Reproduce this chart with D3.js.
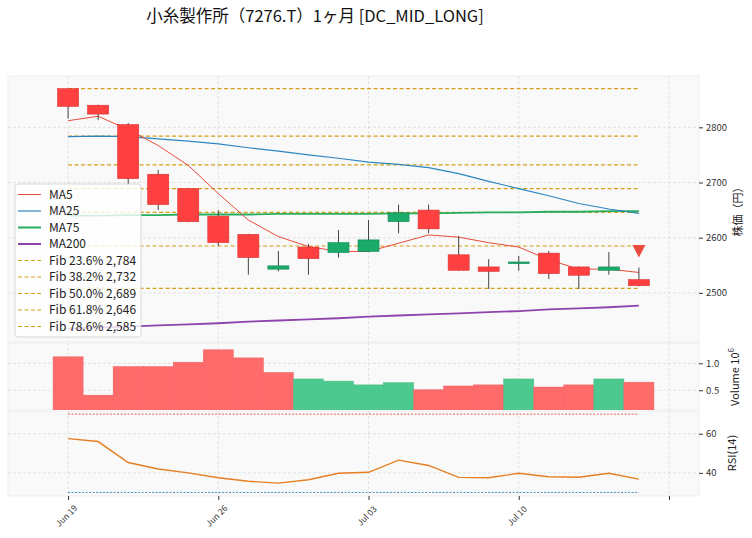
<!DOCTYPE html>
<html>
<head>
<meta charset="utf-8">
<script src="https://cdn.jsdelivr.net/npm/d3@7"></script>
<style>
  body { margin: 0; background: #fff; }
  svg { font-family: "Noto Sans CJK JP", "Noto Sans", sans-serif; }
</style>
</head>
<body>
<svg width="752" height="538"></svg>
<script>
var svg = d3.select("svg");

// data (20 trading days)
var dates = ["Jun 19","Jun 20","Jun 23","Jun 24","Jun 25","Jun 26","Jun 27","Jun 30","Jul 01","Jul 02",
             "Jul 03","Jul 04","Jul 07","Jul 08","Jul 09","Jul 10","Jul 11","Jul 14","Jul 15","Jul 16"];
var opens  = [2870, 2840, 2805, 2715, 2689, 2639, 2606, 2543, 2583, 2573, 2575, 2629, 2650, 2569, 2547, 2553, 2572, 2547, 2541, 2524];
var highs  = [2870, 2841, 2808, 2723, 2690, 2650, 2607, 2576, 2589, 2614, 2632, 2660, 2660, 2603, 2561, 2567, 2576, 2548, 2574, 2546];
var lows   = [2816, 2813, 2695, 2650, 2628, 2585, 2533, 2539, 2533, 2564, 2574, 2608, 2608, 2540, 2507, 2540, 2525, 2507, 2533, 2512];
var closes = [2838, 2824, 2707, 2660, 2629, 2591, 2564, 2549, 2562, 2591, 2596, 2645, 2616, 2541, 2539, 2556, 2535, 2532, 2547, 2513];
var volumes = [1120000, 410000, 940000, 940000, 1020000, 1250000, 1100000, 830000, 710000, 670000,
               600000, 640000, 510000, 580000, 600000, 710000, 560000, 600000, 710000, 650000];

var ma5   = [2812, 2820, 2796, 2767, 2731, 2680, 2632, 2602, 2584, 2575, 2575, 2590, 2605, 2601, 2591, 2583, 2560, 2543, 2543, 2537];
var ma25  = [2783, 2784, 2783, 2779, 2775, 2770, 2763, 2757, 2750, 2744, 2737, 2733, 2727, 2716, 2702, 2689, 2676, 2662, 2652, 2644];
var ma75  = [2640, 2640, 2641, 2641, 2642, 2642, 2642, 2643, 2643, 2643, 2643, 2644, 2644, 2645, 2646, 2646, 2647, 2647, 2648, 2648];
var ma200 = [2435, 2437, 2439, 2441, 2443, 2445, 2448, 2450, 2452, 2454, 2457, 2459, 2461, 2463, 2465, 2467, 2470, 2472, 2474, 2477];
var rsi   = [57.5, 56, 45.3, 42, 40, 37.5, 35.7, 34.8, 36.5, 39.8, 40.3, 46.5, 43.8, 37.7, 37.5, 39.8, 38, 37.8, 39.8, 36.8];

var fibPcts   = [0, 23.6, 38.2, 50.0, 61.8, 78.6, 100];
var fibValues = [2870, 2784, 2732, 2689, 2646, 2585, 2508];

var sellIdx = [19];
var sellPrice = [2576];

var xTickIdx = [0, 5, 10, 15, 20];
var priceTicks = [2500, 2600, 2700, 2800];
var volTicks = [0.5, 1.0];
var rsiTicks = [40, 60];

var up = "#1aaa6a", down = "#ff4040";
var font = "\"Noto Sans CJK JP\", sans-serif";

// layout
var left = 8, right = 699;
var pTop = 76, pBot = 342, vTop = 343, vBot = 410, rTop = 411, rBot = 496;

var x = d3.scaleLinear().domain([-2, 21]).range([left, right]);
var y = d3.scaleLinear().domain([2411, 2893]).range([pBot, pTop]);
var yv = d3.scaleLinear().domain([0.135, 1.376]).range([vBot, vTop]);
var yr = d3.scaleLinear().domain([28.2, 71.6]).range([rBot, rTop]);

svg.append("text")
    .attr("x", 315).attr("y", 22)
    .attr("text-anchor", "middle")
    .attr("font-size", 16.5)
    .attr("fill", "#111")
    .text("小糸製作所（7276.T）1ヶ月 [DC_MID_LONG]");

var defs = svg.append("defs");
[["clipP", pTop, pBot], ["clipV", vTop, vBot], ["clipR", rTop, rBot]].forEach(function(c) {
  defs.append("clipPath").attr("id", c[0])
    .append("rect").attr("x", left).attr("y", c[1]).attr("width", right - left).attr("height", c[2] - c[1]);
});

function panel(top, bot, yScale, ticks, fmt) {
  var g = svg.append("g");
  g.append("rect")
      .attr("x", left).attr("y", top)
      .attr("width", right - left).attr("height", bot - top)
      .attr("fill", "#f9f9f9").attr("stroke", "#ececec").attr("stroke-width", 0.8);
  g.selectAll(".hg").data(ticks).enter().append("line")
      .attr("x1", left).attr("x2", right)
      .attr("y1", function(d) { return yScale(d); })
      .attr("y2", function(d) { return yScale(d); })
      .attr("stroke", "#d8d8d8").attr("stroke-width", 0.7).attr("stroke-dasharray", "3,2");
  g.selectAll(".vg").data(xTickIdx).enter().append("line")
      .attr("x1", function(d) { return x(d); }).attr("x2", function(d) { return x(d); })
      .attr("y1", top).attr("y2", bot)
      .attr("stroke", "#d8d8d8").attr("stroke-width", 0.7).attr("stroke-dasharray", "3,2");
  var ax = svg.append("g")
      .attr("transform", "translate(" + right + ",0)")
      .call(d3.axisRight(yScale).tickValues(ticks).tickSize(4).tickPadding(3).tickFormat(fmt));
  ax.select(".domain").remove();
  ax.selectAll("line").attr("stroke", "#333");
  ax.selectAll("text").attr("font-size", 9.5).attr("font-family", font).attr("fill", "#333");
  return g;
}

panel(pTop, pBot, y, priceTicks, d3.format("d"));
panel(vTop, vBot, yv, volTicks, d3.format(".1f"));
panel(rTop, rBot, yr, rsiTicks, d3.format("d"));

// price panel
var gp = svg.append("g").attr("clip-path", "url(#clipP)");

gp.selectAll(".fib").data(fibValues).enter().append("line")
    .attr("x1", x(0)).attr("x2", x(19))
    .attr("y1", function(d) { return y(d); }).attr("y2", function(d) { return y(d); })
    .attr("stroke", "#d4a017").attr("stroke-width", 1.2).attr("stroke-dasharray", "4,2.5");

var idx = d3.range(dates.length);

function maLine(vals, color, w) {
  gp.append("path")
      .datum(idx)
      .attr("fill", "none").attr("stroke", color).attr("stroke-width", w)
      .attr("d", d3.line().x(function(i) { return x(i); }).y(function(i) { return y(vals[i]); }));
}
maLine(ma200, "#8e44ad", 1.8);
maLine(ma75, "#27ae60", 1.8);
maLine(ma25, "#2e86c1", 1.2);
maLine(ma5, "#e74c3c", 1);

var bw = (x(1) - x(0)) * 0.7;
var candles = gp.selectAll(".candle").data(idx).enter().append("g");
candles.append("line")
    .attr("x1", function(i) { return x(i); }).attr("x2", function(i) { return x(i); })
    .attr("y1", function(i) { return y(highs[i]); }).attr("y2", function(i) { return y(lows[i]); })
    .attr("stroke", "#444").attr("stroke-width", 1);
candles.append("rect")
    .attr("x", function(i) { return x(i) - bw / 2; })
    .attr("width", bw)
    .attr("y", function(i) { return y(Math.max(opens[i], closes[i])); })
    .attr("height", function(i) { return Math.max(1.5, Math.abs(y(opens[i]) - y(closes[i]))); })
    .attr("fill", function(i) { return closes[i] >= opens[i] ? up : down; })
    .attr("stroke", function(i) { return closes[i] >= opens[i] ? "#128a55" : "#d93030"; })
    .attr("stroke-width", 0.6);

gp.selectAll(".sell").data(sellIdx).enter().append("path")
    .attr("transform", function(d, k) { return "translate(" + x(d) + "," + y(sellPrice[k]) + ")"; })
    .attr("d", "M-6.5,-6 L6.5,-6 L0,6.5 Z")
    .attr("fill", "#e74c3c");

// legend
var legendItems = [
  { label: "MA5", color: "#e74c3c", w: 1, dash: null },
  { label: "MA25", color: "#2e86c1", w: 1.2, dash: null },
  { label: "MA75", color: "#27ae60", w: 2, dash: null },
  { label: "MA200", color: "#8e44ad", w: 2, dash: null }
];
for (var k = 1; k <= 5; k++) {
  legendItems.push({
    label: "Fib " + fibPcts[k].toFixed(1) + "% " + d3.format(",")(fibValues[k]),
    color: "#d4a017", w: 1.2, dash: "4,2.5"
  });
}
var lg = svg.append("g");
lg.append("rect")
    .attr("x", 15).attr("y", 184).attr("width", 126).attr("height", 153).attr("rx", 3)
    .attr("fill", "#fff").attr("fill-opacity", 0.8).attr("stroke", "#cfcfcf").attr("stroke-width", 0.8);
var rows = lg.selectAll(".row").data(legendItems).enter().append("g")
    .attr("transform", function(d, i) { return "translate(0," + (194.5 + i * 16.5) + ")"; });
rows.append("line")
    .attr("x1", 18).attr("x2", 41).attr("y1", 0).attr("y2", 0)
    .attr("stroke", function(d) { return d.color; })
    .attr("stroke-width", function(d) { return d.w; })
    .attr("stroke-dasharray", function(d) { return d.dash; });
rows.append("text")
    .attr("x", 49).attr("y", 4.2)
    .attr("font-size", 12).attr("fill", "#222")
    .text(function(d) { return d.label; });

// volume panel
var gv = svg.append("g").attr("clip-path", "url(#clipV)");
var vw = x(1) - x(0);
gv.selectAll(".vol").data(idx).enter().append("rect")
    .attr("x", function(i) { return x(i) - vw / 2; })
    .attr("width", vw)
    .attr("y", function(i) { return yv(volumes[i] / 1e6); })
    .attr("height", function(i) { return vBot - yv(volumes[i] / 1e6) + 2; })
    .attr("fill", function(i) { return i > 0 && closes[i] >= closes[i - 1] ? "#4cc98f" : "#ff6b6b"; })
    .attr("stroke", function(i) { return i > 0 && closes[i] >= closes[i - 1] ? "#44b883" : "#ee6060"; })
    .attr("stroke-width", 0.5);

// rsi panel
var gr = svg.append("g").attr("clip-path", "url(#clipR)");
gr.append("line")
    .attr("x1", x(0)).attr("x2", x(19)).attr("y1", yr(70)).attr("y2", yr(70))
    .attr("stroke", "#e74c3c").attr("stroke-width", 0.9).attr("stroke-dasharray", "2,1.5");
gr.append("line")
    .attr("x1", x(0)).attr("x2", x(19)).attr("y1", yr(30)).attr("y2", yr(30))
    .attr("stroke", "#2e86c1").attr("stroke-width", 0.9).attr("stroke-dasharray", "2,1.5");
gr.append("path")
    .datum(idx)
    .attr("fill", "none").attr("stroke", "#e67e22").attr("stroke-width", 1.4)
    .attr("d", d3.line().x(function(i) { return x(i); }).y(function(i) { return yr(rsi[i]); }));

// x axis (bottom of rsi panel)
var xa = svg.append("g")
    .attr("transform", "translate(0," + rBot + ")")
    .call(d3.axisBottom(x).tickValues(xTickIdx).tickSize(4)
      .tickFormat(function(d) { return d < dates.length ? dates[d] : ""; }));
xa.select(".domain").remove();
xa.selectAll("line").attr("stroke", "#333");
xa.selectAll("text")
    .attr("font-size", 8.5).attr("font-family", font).attr("fill", "#333")
    .attr("text-anchor", "middle")
    .attr("y", 0).attr("dy", 0)
    .attr("transform", "translate(0,22) rotate(-45)");

// axis labels
function yLabel(cx, cy, txt) {
  return svg.append("text")
      .attr("transform", "translate(" + cx + "," + cy + ") rotate(-90)")
      .attr("text-anchor", "middle")
      .attr("font-size", 11).attr("fill", "#222")
      .text(txt);
}
yLabel(742, 209, "株価（円）");
var vl = yLabel(739, 377, "Volume  10");
vl.append("tspan").attr("dy", -5).attr("font-size", 8).text("6");
yLabel(736, 453, "RSI(14)");
</script>
</body>
</html>
